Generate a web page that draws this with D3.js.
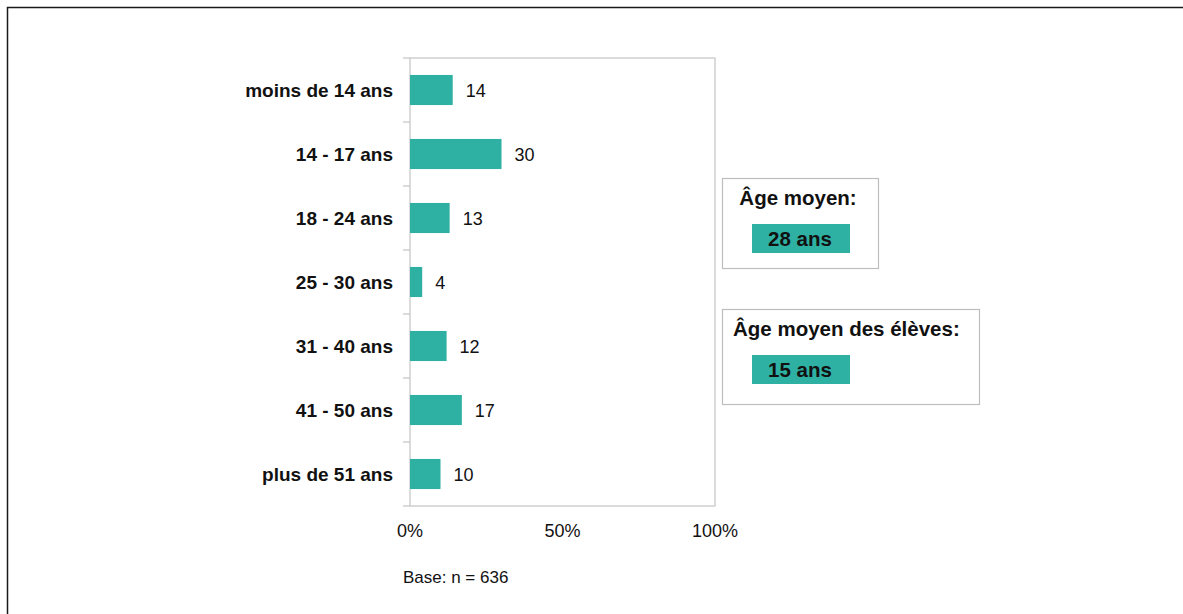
<!DOCTYPE html>
<html>
<head>
<meta charset="utf-8">
<script src="https://cdn.jsdelivr.net/npm/d3@7"></script>
<style>
  body { margin: 0; background: #fff; }
  svg { display: block; font-family: "Liberation Sans", Arial, sans-serif; }
</style>
</head>
<body>
<svg width="1183" height="614"></svg>
<script>
// chart data
var categories = ["moins de 14 ans", "14 - 17 ans", "18 - 24 ans", "25 - 30 ans", "31 - 40 ans", "41 - 50 ans", "plus de 51 ans"];
var values = [14, 30, 13, 4, 12, 17, 10];
var xTicks = [0, 50, 100];
var infoTitles = ["Âge moyen:", "Âge moyen des élèves:"];
var infoValues = ["28 ans", "15 ans"];
var baseNote = "Base: n = 636";

var teal = "#2eb0a3";
var svg = d3.select("svg");

// outer frame (top and left edges only)
svg.append("path")
  .attr("d", "M7.5,614V7.5H1183")
  .attr("fill", "none")
  .attr("stroke", "#1a1a1a")
  .attr("stroke-width", 1.5);

var margin = {top: 58, left: 410},
    width = 305,
    height = 448;

var x = d3.scaleLinear().domain([0, 100]).range([0, width]);
var y = d3.scaleBand().domain(categories).range([0, height]).paddingInner(0.53).paddingOuter(0.265);

var g = svg.append("g")
  .attr("transform", "translate(" + margin.left + "," + margin.top + ")");

// plot frame
g.append("rect")
  .attr("x", 0).attr("y", 0)
  .attr("width", width).attr("height", height)
  .attr("fill", "none")
  .attr("stroke", "#c4c4c4")
  .attr("stroke-width", 1.2);

// category boundary ticks
var step = height / categories.length;
g.selectAll(".ctick")
  .data(d3.range(categories.length + 1))
  .enter().append("line")
    .attr("x1", -7).attr("x2", 0)
    .attr("y1", function(d) { return d * step; })
    .attr("y2", function(d) { return d * step; })
    .attr("stroke", "#c4c4c4")
    .attr("stroke-width", 1.2);

// bars
g.selectAll(".bar")
  .data(values)
  .enter().append("rect")
    .attr("class", "bar")
    .attr("x", 0)
    .attr("y", function(d, i) { return y(categories[i]); })
    .attr("width", function(d) { return x(d); })
    .attr("height", y.bandwidth())
    .attr("fill", teal);

// value labels
g.selectAll(".val")
  .data(values)
  .enter().append("text")
    .attr("x", function(d) { return x(d) + 13; })
    .attr("y", function(d, i) { return y(categories[i]) + y.bandwidth() / 2; })
    .attr("dy", "0.38em")
    .attr("font-size", 18)
    .attr("fill", "#111")
    .text(function(d) { return d; });

// category labels
g.selectAll(".cat")
  .data(categories)
  .enter().append("text")
    .attr("x", -17)
    .attr("y", function(d) { return y(d) + y.bandwidth() / 2; })
    .attr("dy", "0.38em")
    .attr("text-anchor", "end")
    .attr("font-size", 19)
    .attr("font-weight", "bold")
    .attr("fill", "#111")
    .text(function(d) { return d; });

// x axis labels
g.selectAll(".xt")
  .data(xTicks)
  .enter().append("text")
    .attr("x", function(d) { return x(d); })
    .attr("y", height + 31)
    .attr("text-anchor", "middle")
    .attr("font-size", 18)
    .attr("fill", "#111")
    .text(function(d) { return d + "%"; });

// base note
svg.append("text")
  .attr("x", 403).attr("y", 583)
  .attr("font-size", 17)
  .attr("fill", "#111")
  .text(baseNote);

// info boxes
var boxes = [
  {x: 722, y: 178, w: 156, h: 90, tx: 798, anchor: "middle"},
  {x: 722, y: 309, w: 257, h: 95, tx: 733, anchor: "start"}
];
boxes.forEach(function(b, i) {
  var bg = svg.append("g");
  bg.append("rect")
    .attr("x", b.x + 0.5).attr("y", b.y + 0.5)
    .attr("width", b.w).attr("height", b.h)
    .attr("fill", "#fff")
    .attr("stroke", "#bdbdbd")
    .attr("stroke-width", 1.2);
  bg.append("text")
    .attr("x", b.tx).attr("y", b.y + 27)
    .attr("text-anchor", b.anchor)
    .attr("font-size", 20.5)
    .attr("font-weight", "bold")
    .attr("fill", "#111")
    .text(infoTitles[i]);
  bg.append("rect")
    .attr("x", 752).attr("y", b.y + 46)
    .attr("width", 98).attr("height", 29)
    .attr("fill", teal);
  bg.append("text")
    .attr("x", 800).attr("y", b.y + 60.5)
    .attr("dy", "0.36em")
    .attr("text-anchor", "middle")
    .attr("font-size", 20.5)
    .attr("font-weight", "bold")
    .attr("fill", "#111")
    .text(infoValues[i]);
});
</script>
</body>
</html>
